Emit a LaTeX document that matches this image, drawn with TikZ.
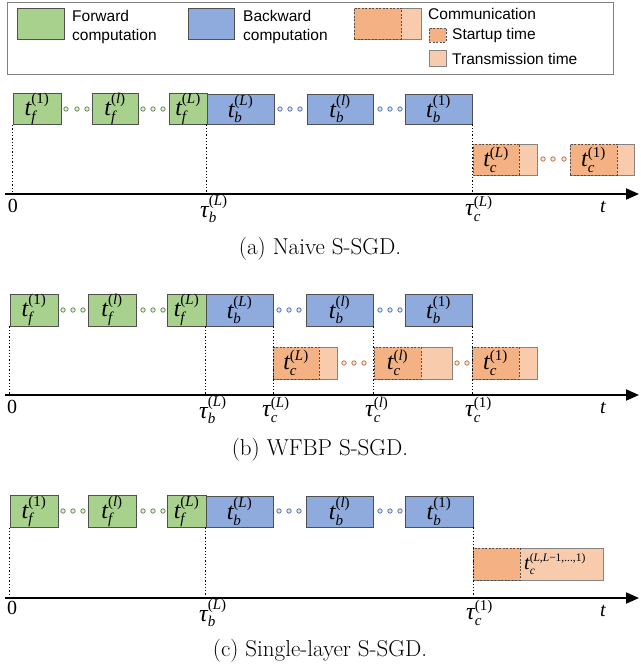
\documentclass[tikz,border=0pt]{standalone}
\usepackage{amsmath}
\usepackage{fontspec}
\newfontfamily\legfont{Liberation Sans}
\newfontfamily\tnr{Liberation Serif}
\usetikzlibrary{arrows.meta}
\DeclareMathSizes{24}{24}{15}{11}
\DeclareMathSizes{20}{20}{11.5}{8}
\definecolor{gfill}{HTML}{A9D18E}
\definecolor{bfill}{HTML}{8FAADC}
\definecolor{ofill}{HTML}{F4B183}
\definecolor{lfill}{HTML}{F8CBAD}
\definecolor{bord}{HTML}{505050}
\definecolor{gdot}{HTML}{6A8F55}
\definecolor{bdot}{HTML}{5A78B0}
\definecolor{odot}{HTML}{C0784A}
\newcommand\mlab{\fontsize{24}{24}\selectfont}
\newcommand\slab{\fontsize{20}{20}\selectfont}
\newcommand\tv[3]{\ensuremath{\text{\tnr\itshape #1}_{\text{\tnr\itshape #2}}^{\text{\tnr #3}}}}
\newcommand\tbox[7]{\node[#2, minimum width={(#4)-(#3)}, minimum height={(#6)-(#5)}] (#1) at ({((#3)+(#4))/2},{((#5)+(#6))/2}) {#7};}
\newcommand\dotrow[3]{\foreach \xx in {#2} \draw[#1] (\xx,#3) circle[radius=2.2pt];}
\tikzset{
  basebox/.style={draw=bord, line width=0.8pt, inner sep=0pt, font=\mlab},
  gbox/.style={basebox, fill=gfill},
  bbox/.style={basebox, fill=bfill},
  lbox/.style={basebox, fill=lfill, draw=bord!70},
  obox/.style={basebox, fill=ofill, dash pattern=on 2pt off 1.5pt},
  gd/.style={draw=gdot, fill=white!70!gfill, line width=0.8pt},
  bd/.style={draw=bdot, fill=white!70!bfill, line width=0.8pt},
  od/.style={draw=odot, fill=white!70!ofill, line width=0.8pt},
  axis/.style={line width=1.8pt, -{Triangle[length=13pt,width=11pt]}},
  vdot/.style={dotted, line width=1.3pt},
  axl/.style={font=\mlab, inner sep=0pt},
  axn/.style={font=\slab\tnr, inner sep=0pt},
  captxt/.style={font=\fontsize{23}{23}\selectfont, inner sep=0pt},
  legtxt/.style={font=\legfont\fontsize{15.5}{15.5}\selectfont, inner sep=0pt, anchor=west},
}
\begin{document}
\begin{tikzpicture}[x=1pt,y=-1pt]
\useasboundingbox (0,0) rectangle (640,668);
% ---------- legend ----------
\draw[draw=gray, line width=0.9pt] (7,2) rectangle (613,74);
\tbox{lgF}{gbox}{17}{64}{8}{39}{}
\node[legtxt] (tF1) at (72,16) {Forward};
\node[legtxt] (tF2) at (72,36) {computation};
\tbox{lgB}{bbox}{188}{234}{8}{39}{}
\node[legtxt] (tB1) at (243,16) {Backward};
\node[legtxt] (tB2) at (243,36) {computation};
\tbox{lgCw}{lbox}{354}{421}{8}{39}{}
\tbox{lgC}{obox}{354}{401}{8}{39}{}
\node[legtxt] (tC) at (428,14) {Communication};
\tbox{lgS}{obox}{429}{446}{28}{42}{}
\node[legtxt] (tS) at (452,35) {Startup time};
\tbox{lgT}{lbox}{429}{446}{50}{66}{}
\node[legtxt] (tT) at (452,59) {Transmission time};
% ---------- (a) ----------
\tbox{fa1}{gbox}{13}{61}{94}{124}{\tv{t}{f}{(1)}}
\tbox{fal}{gbox}{92}{138}{94}{124}{\tv{t}{f}{(\textit{l})}}
\tbox{faL}{gbox}{169}{207}{94}{124}{\tv{t}{f}{(\textit{L})}}
\tbox{baL}{bbox}{207}{274}{94}{124}{\tv{t}{b}{(\textit{L})}}
\tbox{bal}{bbox}{307}{373}{94}{124}{\tv{t}{b}{(\textit{l})}}
\tbox{ba1}{bbox}{405}{472}{94}{124}{\tv{t}{b}{(1)}}
\dotrow{gd}{66,77,87,143,153,163}{109}
\dotrow{bd}{280,290,300,380,390,400}{109}
\tbox{caLw}{lbox}{473}{537}{144}{175}{}
\tbox{caL}{obox}{473}{519}{144}{175}{\tv{t}{c}{(\textit{L})}}
\tbox{ca1w}{lbox}{570}{634}{144}{175}{}
\tbox{ca1}{obox}{570}{617}{144}{175}{\tv{t}{c}{(1)}}
\dotrow{od}{543,553,564}{159}
\coordinate (axa0) at (5,194);
\coordinate (axa1) at (639,194);
\draw[axis] (axa0) -- (axa1);
\draw[vdot] (fa1.south west) -- (fa1.south west |- axa0);
\draw[vdot] (baL.south west) -- (baL.south west |- axa0);
\draw[vdot] (ba1.south east) -- (ba1.south east |- axa0);
\node[axn] (la0) at (13,206) {0};
\node[axl, anchor=west] (latb) at (200,209) {\tv{τ}{b}{(\textit{L})}};
\node[axl, anchor=west] (latc) at (465,209) {\tv{τ}{c}{(\textit{L})}};
\node[axn] (lat) at (603,207) {\itshape t};
\node[captxt] (capa) at (320,249) {(a) Naive S-SGD.};
% ---------- (b) ----------
\tbox{fb1}{gbox}{10}{58}{294}{326}{\tv{t}{f}{(1)}}
\tbox{fbl}{gbox}{88}{136}{294}{326}{\tv{t}{f}{(\textit{l})}}
\tbox{fbL}{gbox}{167}{206}{294}{326}{\tv{t}{f}{(\textit{L})}}
\tbox{bbL}{bbox}{206}{273}{294}{326}{\tv{t}{b}{(\textit{L})}}
\tbox{bbl}{bbox}{306}{373}{294}{326}{\tv{t}{b}{(\textit{l})}}
\tbox{bb1}{bbox}{405}{472}{294}{326}{\tv{t}{b}{(1)}}
\dotrow{gd}{63,73,83,143,153,163}{310}
\dotrow{bd}{279,289,299,380,390,400}{310}
\tbox{cbLw}{lbox}{273}{337}{347}{379}{}
\tbox{cbL}{obox}{273}{319}{347}{379}{\tv{t}{c}{(\textit{L})}}
\tbox{cblw}{lbox}{374}{452}{347}{379}{}
\tbox{cbl}{obox}{374}{421}{347}{379}{\tv{t}{c}{(\textit{l})}}
\tbox{cb1w}{lbox}{472}{537}{347}{379}{}
\tbox{cb1}{obox}{472}{519}{347}{379}{\tv{t}{c}{(1)}}
\dotrow{od}{344,354,364,457,467}{363}
\coordinate (axb0) at (5,395);
\coordinate (axb1) at (639,395);
\draw[axis] (axb0) -- (axb1);
\draw[vdot] (fb1.south west) -- (fb1.south west |- axb0);
\draw[vdot] (bbL.south west) -- (bbL.south west |- axb0);
\draw[vdot] (bbL.south east) -- (bbL.south east |- axb0);
\draw[vdot] (bbl.south east) -- (bbl.south east |- axb0);
\draw[vdot] (bb1.south east) -- (bb1.south east |- axb0);
\node[axn] (lb0) at (12,407) {0};
\node[axl, anchor=west] (lbtb) at (199,410) {\tv{τ}{b}{(\textit{L})}};
\node[axl, anchor=west] (lbtc) at (262,410) {\tv{τ}{c}{(\textit{L})}};
\node[axl, anchor=west] (lbtl) at (365,410) {\tv{τ}{c}{(\textit{l})}};
\node[axl, anchor=west] (lbt1) at (465,410) {\tv{τ}{c}{(1)}};
\node[axn] (lbt) at (603,408) {\itshape t};
\node[captxt] (capb) at (320,450) {(b) WFBP S-SGD.};
% ---------- (c) ----------
\tbox{fc1}{gbox}{10}{58}{496}{527}{\tv{t}{f}{(1)}}
\tbox{fcl}{gbox}{88}{136}{496}{527}{\tv{t}{f}{(\textit{l})}}
\tbox{fcL}{gbox}{167}{206}{496}{527}{\tv{t}{f}{(\textit{L})}}
\tbox{bcL}{bbox}{206}{273}{496}{527}{\tv{t}{b}{(\textit{L})}}
\tbox{bcl}{bbox}{306}{373}{496}{527}{\tv{t}{b}{(\textit{l})}}
\tbox{bc1}{bbox}{405}{473}{496}{527}{\tv{t}{b}{(1)}}
\dotrow{gd}{63,73,83,143,153,163}{511}
\dotrow{bd}{279,289,299,380,390,400}{511}
\tbox{ccw}{lbox}{473}{603}{548}{580}{}
\tbox{cc}{obox}{473}{520}{548}{580}{}
\node[font=\slab, inner sep=0pt, anchor=west] (lcc) at (524,564) {\tv{t}{c}{(\textit{L},\textit{L}−1,...,1)}};
\coordinate (axc0) at (5,598);
\coordinate (axc1) at (639,598);
\draw[axis] (axc0) -- (axc1);
\draw[vdot] (fc1.south west) -- (fc1.south west |- axc0);
\draw[vdot] (bcL.south west) -- (bcL.south west |- axc0);
\draw[vdot] (bc1.south east) -- (bc1.south east |- axc0);
\node[axn] (lc0) at (12,608) {0};
\node[axl, anchor=west] (lctb) at (199,613) {\tv{τ}{b}{(\textit{L})}};
\node[axl, anchor=west] (lct1) at (466,613) {\tv{τ}{c}{(1)}};
\node[axn] (lct) at (603,611) {\itshape t};
\node[captxt] (capc) at (320,651) {(c) Single-layer S-SGD.};
\end{tikzpicture}
\end{document}
